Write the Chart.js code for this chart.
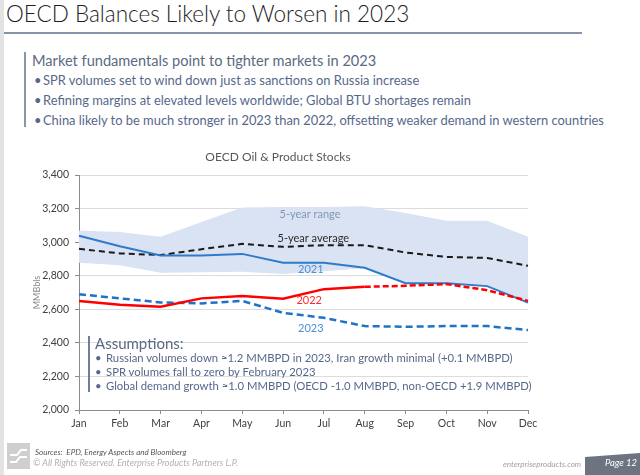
<!DOCTYPE html>
<html>
<head>
<meta charset="utf-8">
<script src="https://cdn.jsdelivr.net/npm/chart.js@4.4.1/dist/chart.umd.min.js"></script>
<style>
  html, body { margin: 0; padding: 0; background: #fff; }
  body { width: 640px; height: 475px; position: relative; overflow: hidden; font-family: Lato, "Open Sans", sans-serif; }
  .abs { position: absolute; white-space: nowrap; }
  #leftEdge { left: 0; top: 0; width: 4px; height: 475px; background: #e3e3e3; }
  #title { left: 6px; top: 0px; font-size: 22.5px; font-weight: 300; color: #1e1e1e; line-height: 28px; }
  #rule { left: 4px; top: 32px; width: 578px; height: 2px; background: #8794a8; }
  #introBar { left: 24px; top: 52px; width: 2px; height: 75px; background: #8a96aa; }
  #intro { left: 32px; top: 51px; font-size: 14.6px; color: #5b6a82; line-height: 20px; }
  .bul { font-size: 12.9px; color: #56688a; line-height: 16px; }
  .bul span { display: inline-block; width: 9px; }
  #chartBox { left: 0; top: 0; width: 640px; height: 475px; }
  #assBar { left: 88px; top: 336px; width: 2px; height: 56px; background: #6f7e99; }
  #assHead { left: 95px; top: 333px; font-size: 15px; color: #5b6a82; line-height: 20px; }
  .abul { font-size: 11.3px; color: #56688a; line-height: 14px; }
  .abul span { display: inline-block; width: 11px; }
  #logo { left: 7px; top: 443px; width: 23px; height: 26px; background: #cfcfcf; }
  #src { left: 35px; top: 447px; font-size: 8px; font-style: italic; color: #555; }
  #copy { left: 33px; top: 457px; font-size: 9px; font-style: italic; color: #b0b0b0; }
  #site { left: 503px; top: 459px; font-size: 8px; font-style: italic; color: #a0a0a0; }
  #pageTab { left: 585px; top: 453px; width: 55px; height: 22px; }
  #pageNum { left: 605px; top: 457px; font-size: 9.5px; font-style: italic; color: #fff; }
</style>
</head>
<body>
<div class="abs" id="leftEdge"></div>
<div class="abs" id="title">OECD Balances Likely to Worsen in 2023</div>
<div class="abs" id="rule"></div>
<div class="abs" id="introBar"></div>
<div class="abs" id="intro">Market fundamentals point to tighter markets in 2023</div>
<div class="abs bul" style="left:34px; top:72px;"><span>•</span>SPR volumes set to wind down just as sanctions on Russia increase</div>
<div class="abs bul" style="left:34px; top:92px;"><span>•</span>Refining margins at elevated levels worldwide; Global BTU shortages remain</div>
<div class="abs bul" style="left:34px; top:112px;"><span>•</span>China likely to be much stronger in 2023 than 2022, offsetting weaker demand in western countries</div>

<div class="abs" id="chartBox"><canvas id="stocks-chart" width="640" height="475"></canvas></div>

<div class="abs" id="assBar"></div>
<div class="abs" id="assHead">Assumptions:</div>
<div class="abs abul" style="left:95px; top:351px;"><span>•</span>Russian volumes down ≈1.2 MMBPD in 2023, Iran growth minimal (+0.1 MMBPD)</div>
<div class="abs abul" style="left:95px; top:365px;"><span>•</span>SPR volumes fall to zero by February 2023</div>
<div class="abs abul" style="left:95px; top:379px;"><span>•</span>Global demand growth ≈1.0 MMBPD (OECD -1.0 MMBPD, non-OECD +1.9 MMBPD)</div>

<div class="abs" id="logo">
  <svg width="23" height="26" viewBox="0 0 23 26">
    <polyline points="3,12 10,12 14,7 20,7" fill="none" stroke="#fff" stroke-width="2"/>
    <polyline points="3,19 9,19 13,14 20,14" fill="none" stroke="#fff" stroke-width="2"/>
  </svg>
</div>
<div class="abs" id="src">Sources:&nbsp; EPD, Energy Aspects and Bloomberg</div>
<div class="abs" id="copy">© All Rights Reserved. Enterprise Products Partners L.P.</div>
<div class="abs" id="site">enterpriseproducts.com</div>
<svg class="abs" id="pageTab" viewBox="0 0 55 22"><polygon points="0,4 55,0 55,22 0,22" fill="#6e7381"/></svg>
<div class="abs" id="pageNum">Page 12</div>

<script>
// --- Data ---
const months = ['Jan', 'Feb', 'Mar', 'Apr', 'May', 'Jun', 'Jul', 'Aug', 'Sep', 'Oct', 'Nov', 'Dec'];
const rangeHigh = [3070, 3060, 3032, 3120, 3206, 3210, 3210, 3214, 3174, 3127, 3127, 3032];
const rangeLow  = [2877, 2863, 2817, 2821, 2823, 2810, 2827, 2845, 2757, 2757, 2738, 2643];
const avg5yr    = [2960, 2933, 2923, 2958, 2990, 2972, 2982, 2982, 2938, 2912, 2906, 2859];
const stocks2021 = [3038, 2975, 2920, 2920, 2930, 2877, 2877, 2847, 2755, 2755, 2738, 2640];
const stocks2022 = [2650, 2627, 2615, 2665, 2679, 2663, 2720, 2734, 2740, 2750, 2714, 2650];
const stocks2023 = [2690, 2665, 2641, 2635, 2650, 2579, 2549, 2500, 2496, 2500, 2500, 2476];
const yTicks = { min: 2000, max: 3400, step: 200 };
const lastActual2022 = 7; // Aug: solid up to here, forecast dashed after

// labels drawn inside the plot, placed in data space (month index, value)
const seriesLabels = [
    { text: '5-year range', month: 5.66, value: 3167, color: '#8196b6' },
    { text: '5-year average', month: 5.74, value: 3024, color: '#2b2b2b' },
    { text: '2021', month: 5.68, value: 2839, color: '#4a8fd6' },
    { text: '2022', month: 5.64, value: 2655, color: '#ff2a2a' },
    { text: '2023', month: 5.68, value: 2488, color: '#4a8fd6' }
];

const labelPlugin = {
    id: 'seriesLabels',
    afterDatasetsDraw(chart) {
        const { ctx, scales: { x, y } } = chart;
        ctx.save();
        ctx.font = '11px Lato, "Open Sans", sans-serif';
        ctx.textAlign = 'center';
        ctx.textBaseline = 'middle';
        seriesLabels.forEach(l => {
            ctx.fillStyle = l.color;
            ctx.fillText(l.text, x.getPixelForValue(l.month), y.getPixelForValue(l.value));
        });
        ctx.restore();
    }
};

Chart.defaults.font.family = 'Lato, "Open Sans", sans-serif';
Chart.defaults.color = '#595959';

const ctx = document.getElementById('stocks-chart').getContext('2d');
new Chart(ctx, {
    type: 'line',
    data: {
        labels: months,
        datasets: [
            {
                label: '5-year range high',
                data: rangeHigh,
                borderWidth: 0,
                borderColor: 'rgba(0,0,0,0)',
                backgroundColor: '#dae3f3',
                pointRadius: 0,
                fill: '+1',
                order: 10
            },
            {
                label: '5-year range low',
                data: rangeLow,
                borderWidth: 0,
                borderColor: 'rgba(0,0,0,0)',
                pointRadius: 0,
                fill: false,
                order: 10
            },
            {
                label: '5-year average',
                data: avg5yr,
                borderColor: '#1a1a1a',
                borderWidth: 2,
                borderDash: [6, 4],
                pointRadius: 0,
                fill: false,
                order: 4
            },
            {
                label: '2021',
                data: stocks2021,
                borderColor: '#2f7bc7',
                borderWidth: 2,
                pointRadius: 0,
                fill: false,
                order: 3
            },
            {
                label: '2022',
                data: stocks2022,
                borderColor: '#ff0000',
                borderWidth: 2.5,
                pointRadius: 0,
                fill: false,
                order: 1,
                segment: {
                    borderDash: c => c.p0DataIndex >= lastActual2022 ? [6, 3] : undefined
                }
            },
            {
                label: '2023',
                data: stocks2023,
                borderColor: '#1e72c8',
                borderWidth: 2.5,
                borderDash: [7, 4],
                pointRadius: 0,
                fill: false,
                order: 2
            }
        ]
    },
    options: {
        responsive: false,
        animation: false,
        layout: { padding: { left: 28, right: 112, top: 145, bottom: 35 } },
        plugins: {
            legend: { display: false },
            tooltip: { enabled: false },
            title: {
                display: true,
                text: 'OECD Oil & Product Stocks',
                color: '#595959',
                font: { size: 12, weight: 'normal' },
                padding: { top: 5, bottom: 10.6 }
            }
        },
        scales: {
            x: {
                offset: false,
                grid: { drawOnChartArea: false, drawTicks: true, tickLength: 4, tickColor: '#8c8c8c' },
                border: { display: true, color: '#8c8c8c', width: 1 },
                ticks: { color: '#404040', font: { size: 10.5 }, padding: 3, maxRotation: 0 },
                afterFit: s => { s.height = 30; }
            },
            y: {
                min: yTicks.min,
                max: yTicks.max,
                grid: { color: '#dcdcdc', tickLength: 4, tickColor: '#8c8c8c' },
                border: { display: true, color: '#8c8c8c', width: 1 },
                ticks: { stepSize: yTicks.step, color: '#404040', font: { size: 10.5 }, padding: 6 },
                title: { display: true, text: 'MMBbls', color: '#8a8a8a', font: { size: 9 }, padding: { top: 4, bottom: 0 } },
                afterFit: s => { s.width = 51; }
            }
        }
    },
    plugins: [labelPlugin]
});
</script>
</body>
</html>
